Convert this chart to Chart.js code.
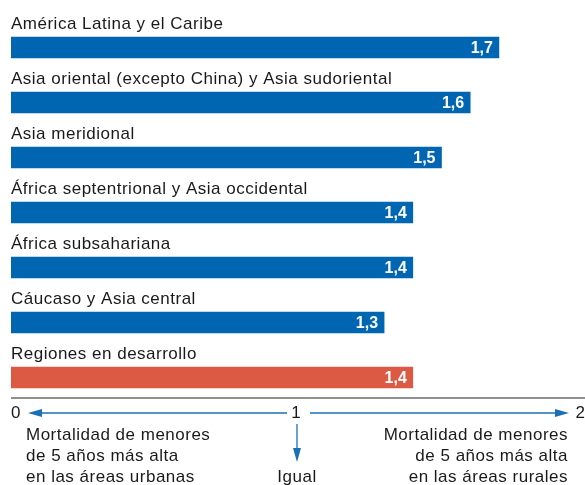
<!DOCTYPE html>
<html>
<head>
<meta charset="utf-8">
<script src="https://cdn.jsdelivr.net/npm/chart.js@4"></script>
<style>
  body { margin: 0; background: #fff; }
  #wrap { width: 585px; height: 485px; }
</style>
</head>
<body>
<div id="wrap"><canvas id="grafico" width="585" height="485"></canvas></div>
<script>
// datos
const regiones = [
  'América Latina y el Caribe',
  'Asia oriental (excepto China) y Asia sudoriental',
  'Asia meridional',
  'África septentrional y Asia occidental',
  'África subsahariana',
  'Cáucaso y Asia central',
  'Regiones en desarrollo'
];
const valores = [1.7, 1.6, 1.5, 1.4, 1.4, 1.3, 1.4];
const colores = ['#0066b2', '#0066b2', '#0066b2', '#0066b2', '#0066b2', '#0066b2', '#dc5a43'];
const marcas = ['0', '1', '2'];
const textoIzq = ['Mortalidad de menores', 'de 5 años más alta', 'en las áreas urbanas'];
const textoDer = ['Mortalidad de menores', 'de 5 años más alta', 'en las áreas rurales'];
const textoCentro = 'Igual';

const azul = '#1a6fb5';
const fuente = '17px "Liberation Sans", Arial, sans-serif';

function flecha(ctx, x1, y1, x2, y2) {
  const ang = Math.atan2(y2 - y1, x2 - x1);
  const largo = 14, ancho = 4;
  ctx.beginPath();
  ctx.moveTo(x1, y1);
  ctx.lineTo(x2 - Math.cos(ang) * largo, y2 - Math.sin(ang) * largo);
  ctx.stroke();
  ctx.beginPath();
  ctx.moveTo(x2, y2);
  ctx.lineTo(x2 - Math.cos(ang) * largo - Math.sin(ang) * ancho, y2 - Math.sin(ang) * largo + Math.cos(ang) * ancho);
  ctx.lineTo(x2 - Math.cos(ang) * largo + Math.sin(ang) * ancho, y2 - Math.sin(ang) * largo - Math.cos(ang) * ancho);
  ctx.closePath();
  ctx.fill();
}

const etiquetas = {
  id: 'etiquetas',
  afterDatasetsDraw(chart) {
    const ctx = chart.ctx;
    const xs = chart.scales.x;
    const meta = chart.getDatasetMeta(0);
    ctx.save();
    // nombres de regiones sobre cada barra
    ctx.font = fuente;
    ctx.letterSpacing = '0.5px';
    ctx.fillStyle = '#1a1a1a';
    ctx.textAlign = 'left';
    ctx.textBaseline = 'alphabetic';
    meta.data.forEach((bar, i) => {
      const top = bar.y - bar.height / 2;
      ctx.fillText(regiones[i], xs.getPixelForValue(0), top - 8);
    });
    // valores dentro de las barras
    ctx.letterSpacing = '0px';
    ctx.font = 'bold 16px "Liberation Sans", Arial, sans-serif';
    ctx.fillStyle = '#fff';
    ctx.textAlign = 'right';
    ctx.textBaseline = 'middle';
    meta.data.forEach((bar, i) => {
      ctx.fillText(valores[i].toFixed(1).replace('.', ','), bar.x - 6, bar.y + 1);
    });

    // eje inferior
    const x0 = xs.getPixelForValue(0), x1 = xs.getPixelForValue(1), x2 = xs.getPixelForValue(2);
    const yLinea = 398;
    ctx.strokeStyle = '#222';
    ctx.lineWidth = 1.2;
    ctx.beginPath();
    ctx.moveTo(x0, yLinea);
    ctx.lineTo(x2, yLinea);
    ctx.stroke();

    const yMarca = 413;
    ctx.font = fuente;
    ctx.fillStyle = '#1a1a1a';
    ctx.textBaseline = 'middle';
    ctx.textAlign = 'left';
    ctx.fillText(marcas[0], x0, yMarca);
    ctx.textAlign = 'center';
    ctx.fillText(marcas[1], x1 - 2, yMarca);
    ctx.textAlign = 'right';
    ctx.fillText(marcas[2], x2, yMarca);

    ctx.strokeStyle = azul;
    ctx.fillStyle = azul;
    ctx.lineWidth = 1.3;
    flecha(ctx, x1 - 11, yMarca, x0 + 17, yMarca);
    flecha(ctx, x1 + 12, yMarca, x2 - 16, yMarca);
    flecha(ctx, x1 - 1, yMarca + 11, x1 - 1, yMarca + 49);

    ctx.fillStyle = '#1a1a1a';
    ctx.textBaseline = 'alphabetic';
    ctx.letterSpacing = '0.5px';
    ctx.textAlign = 'left';
    textoIzq.forEach((t, i) => ctx.fillText(t, x0 + 15, 440 + i * 21));
    ctx.textAlign = 'right';
    textoDer.forEach((t, i) => ctx.fillText(t, x2 - 17, 440 + i * 21));
    ctx.textAlign = 'center';
    ctx.fillText(textoCentro, x1 - 1, 482);
    ctx.restore();
  }
};

new Chart(document.getElementById('grafico'), {
  type: 'bar',
  data: {
    labels: regiones,
    datasets: [{
      data: valores,
      backgroundColor: colores,
      barThickness: 21,
      borderWidth: 0
    }]
  },
  options: {
    indexAxis: 'y',
    responsive: false,
    animation: false,
    layout: { padding: { left: 11, right: 0, top: 20, bottom: 80 } },
    scales: {
      x: { min: 0, max: 2, display: false },
      y: { display: false, offset: true }
    },
    plugins: {
      legend: { display: false },
      tooltip: { enabled: false }
    }
  },
  plugins: [etiquetas]
});
</script>
</body>
</html>
